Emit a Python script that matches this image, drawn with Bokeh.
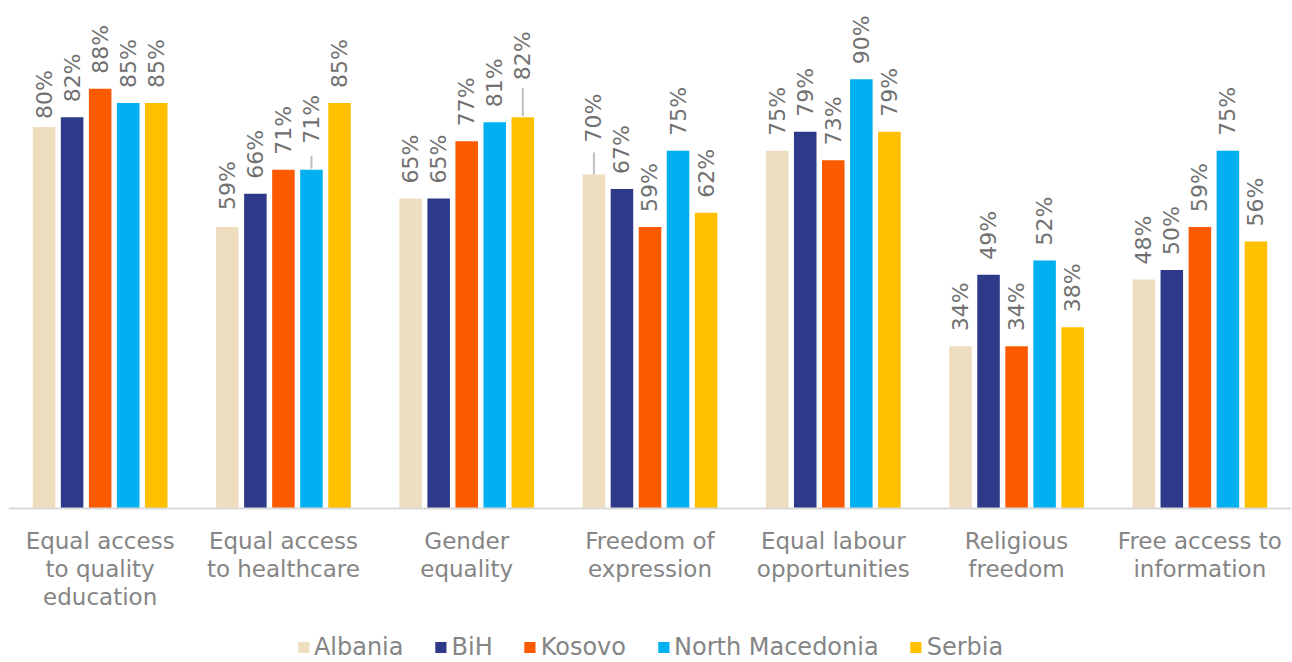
import math
from bokeh.plotting import figure
from bokeh.models import ColumnDataSource, FactorRange, Range1d, LabelSet, Legend, LegendItem
from bokeh.transform import dodge
from bokeh.core.properties import value
from bokeh.embed import file_html
from bokeh.resources import INLINE

# ---------------- data ----------------
categories = [
    "Equal access\nto quality\neducation",
    "Equal access\nto healthcare",
    "Gender\nequality",
    "Freedom of\nexpression",
    "Equal labour\nopportunities",
    "Religious\nfreedom",
    "Free access to\ninformation",
]
series_names = ["Albania", "BiH", "Kosovo", "North Macedonia", "Serbia"]
albania = [80, 59, 65, 70, 75, 34, 48]
bih = [82, 66, 65, 67, 79, 49, 50]
kosovo = [88, 71, 77, 59, 73, 34, 59]
north_macedonia = [85, 71, 81, 75, 90, 52, 75]
serbia = [85, 85, 82, 62, 79, 38, 56]
series_values = [albania, bih, kosovo, north_macedonia, serbia]
colors = ["#EFDDC0", "#2E3A89", "#FB5A00", "#00B0F0", "#FFC000"]

# ---------------- style ----------------
FONT = "DejaVu Sans"
W, H = 1292, 662
BASE_PX = 508            # screen y of the zero line
Y_MAX = 106.5
PX_PER_UNIT = BASE_PX / Y_MAX
Y_MIN = -(H - BASE_PX) / PX_PER_UNIT

offsets = [-0.306, -0.153, 0.0, 0.153, 0.306]
BAR_W = 0.123
LABEL_GAP = 15
label_nudge = {(0, "Albania"): -7, (1, "Albania"): 2}
# (category index, series): (label offset px, leader start px, leader end px)
leaders = {
    (1, "North Macedonia"): (26, 1, 14),
    (2, "Serbia"): (37, 1, 29),
    (3, "Albania"): (32, 0, 22),
}

p = figure(
    x_range=FactorRange(*categories, range_padding=0),
    y_range=Range1d(Y_MIN, Y_MAX),
    width=W, height=H,
    output_backend="svg", toolbar_location=None,
    min_border_left=8, min_border_right=1, min_border_top=0, min_border_bottom=0,
)
p.outline_line_color = None
p.background_fill_color = "white"
p.border_fill_color = "white"
p.xgrid.visible = False
p.ygrid.visible = False
p.yaxis.visible = False

xa = p.xaxis[0]
xa.fixed_location = 0
xa.axis_line_color = "#D9D9D9"
xa.axis_line_width = 2
xa.major_tick_line_color = None
xa.minor_tick_line_color = None
xa.major_label_text_font = FONT
xa.major_label_text_font_size = "23px"
xa.major_label_text_color = "#858585"
xa.major_label_text_line_height = 1.09
xa.major_label_standoff = 13

legend_items = []
for si, (name, vals, col, off) in enumerate(zip(series_names, series_values, colors, offsets)):
    yoff = []
    for ci in range(len(categories)):
        if (ci, name) in leaders:
            yoff.append(leaders[(ci, name)][0])
        else:
            yoff.append(LABEL_GAP + label_nudge.get((ci, name), 0))
    src = ColumnDataSource(dict(
        cat=categories, val=vals,
        lab=[f"{v}%" for v in vals], yoff=yoff,
    ))
    r = p.vbar(x=dodge("cat", off, range=p.x_range), top="val", bottom=0,
               width=BAR_W, source=src, fill_color=col, line_color=None)
    legend_items.append(LegendItem(label=name, renderers=[r]))
    labels = LabelSet(
        x=dodge("cat", off, range=p.x_range), y="val", text="lab",
        y_offset="yoff", angle=math.pi / 2, source=src,
        text_align="left", text_baseline="middle",
        text_font=value(FONT), text_font_size="22px", text_color="#707070",
    )
    p.add_layout(labels)
    # leader lines
    lx, ly0, ly1 = [], [], []
    for ci, cat in enumerate(categories):
        if (ci, name) in leaders:
            _, s0, s1 = leaders[(ci, name)]
            lx.append(cat)
            ly0.append(vals[ci] + s0 / PX_PER_UNIT)
            ly1.append(vals[ci] + s1 / PX_PER_UNIT)
    if lx:
        lsrc = ColumnDataSource(dict(cat=lx, y0=ly0, y1=ly1))
        p.segment(x0=dodge("cat", off, range=p.x_range), y0="y0",
                  x1=dodge("cat", off, range=p.x_range), y1="y1",
                  source=lsrc, line_color="#BFBFBF", line_width=2)

legend = Legend(
    items=legend_items, orientation="horizontal", location="bottom_center",
    label_text_font=FONT, label_text_font_size="24px", label_text_color="#858585",
    glyph_width=14, glyph_height=14, label_standoff=4, spacing=30,
    padding=0, margin=1, border_line_color=None, background_fill_alpha=0,
    label_height=24,
)
p.add_layout(legend)

open("out.html", "w").write(file_html(p, INLINE))
